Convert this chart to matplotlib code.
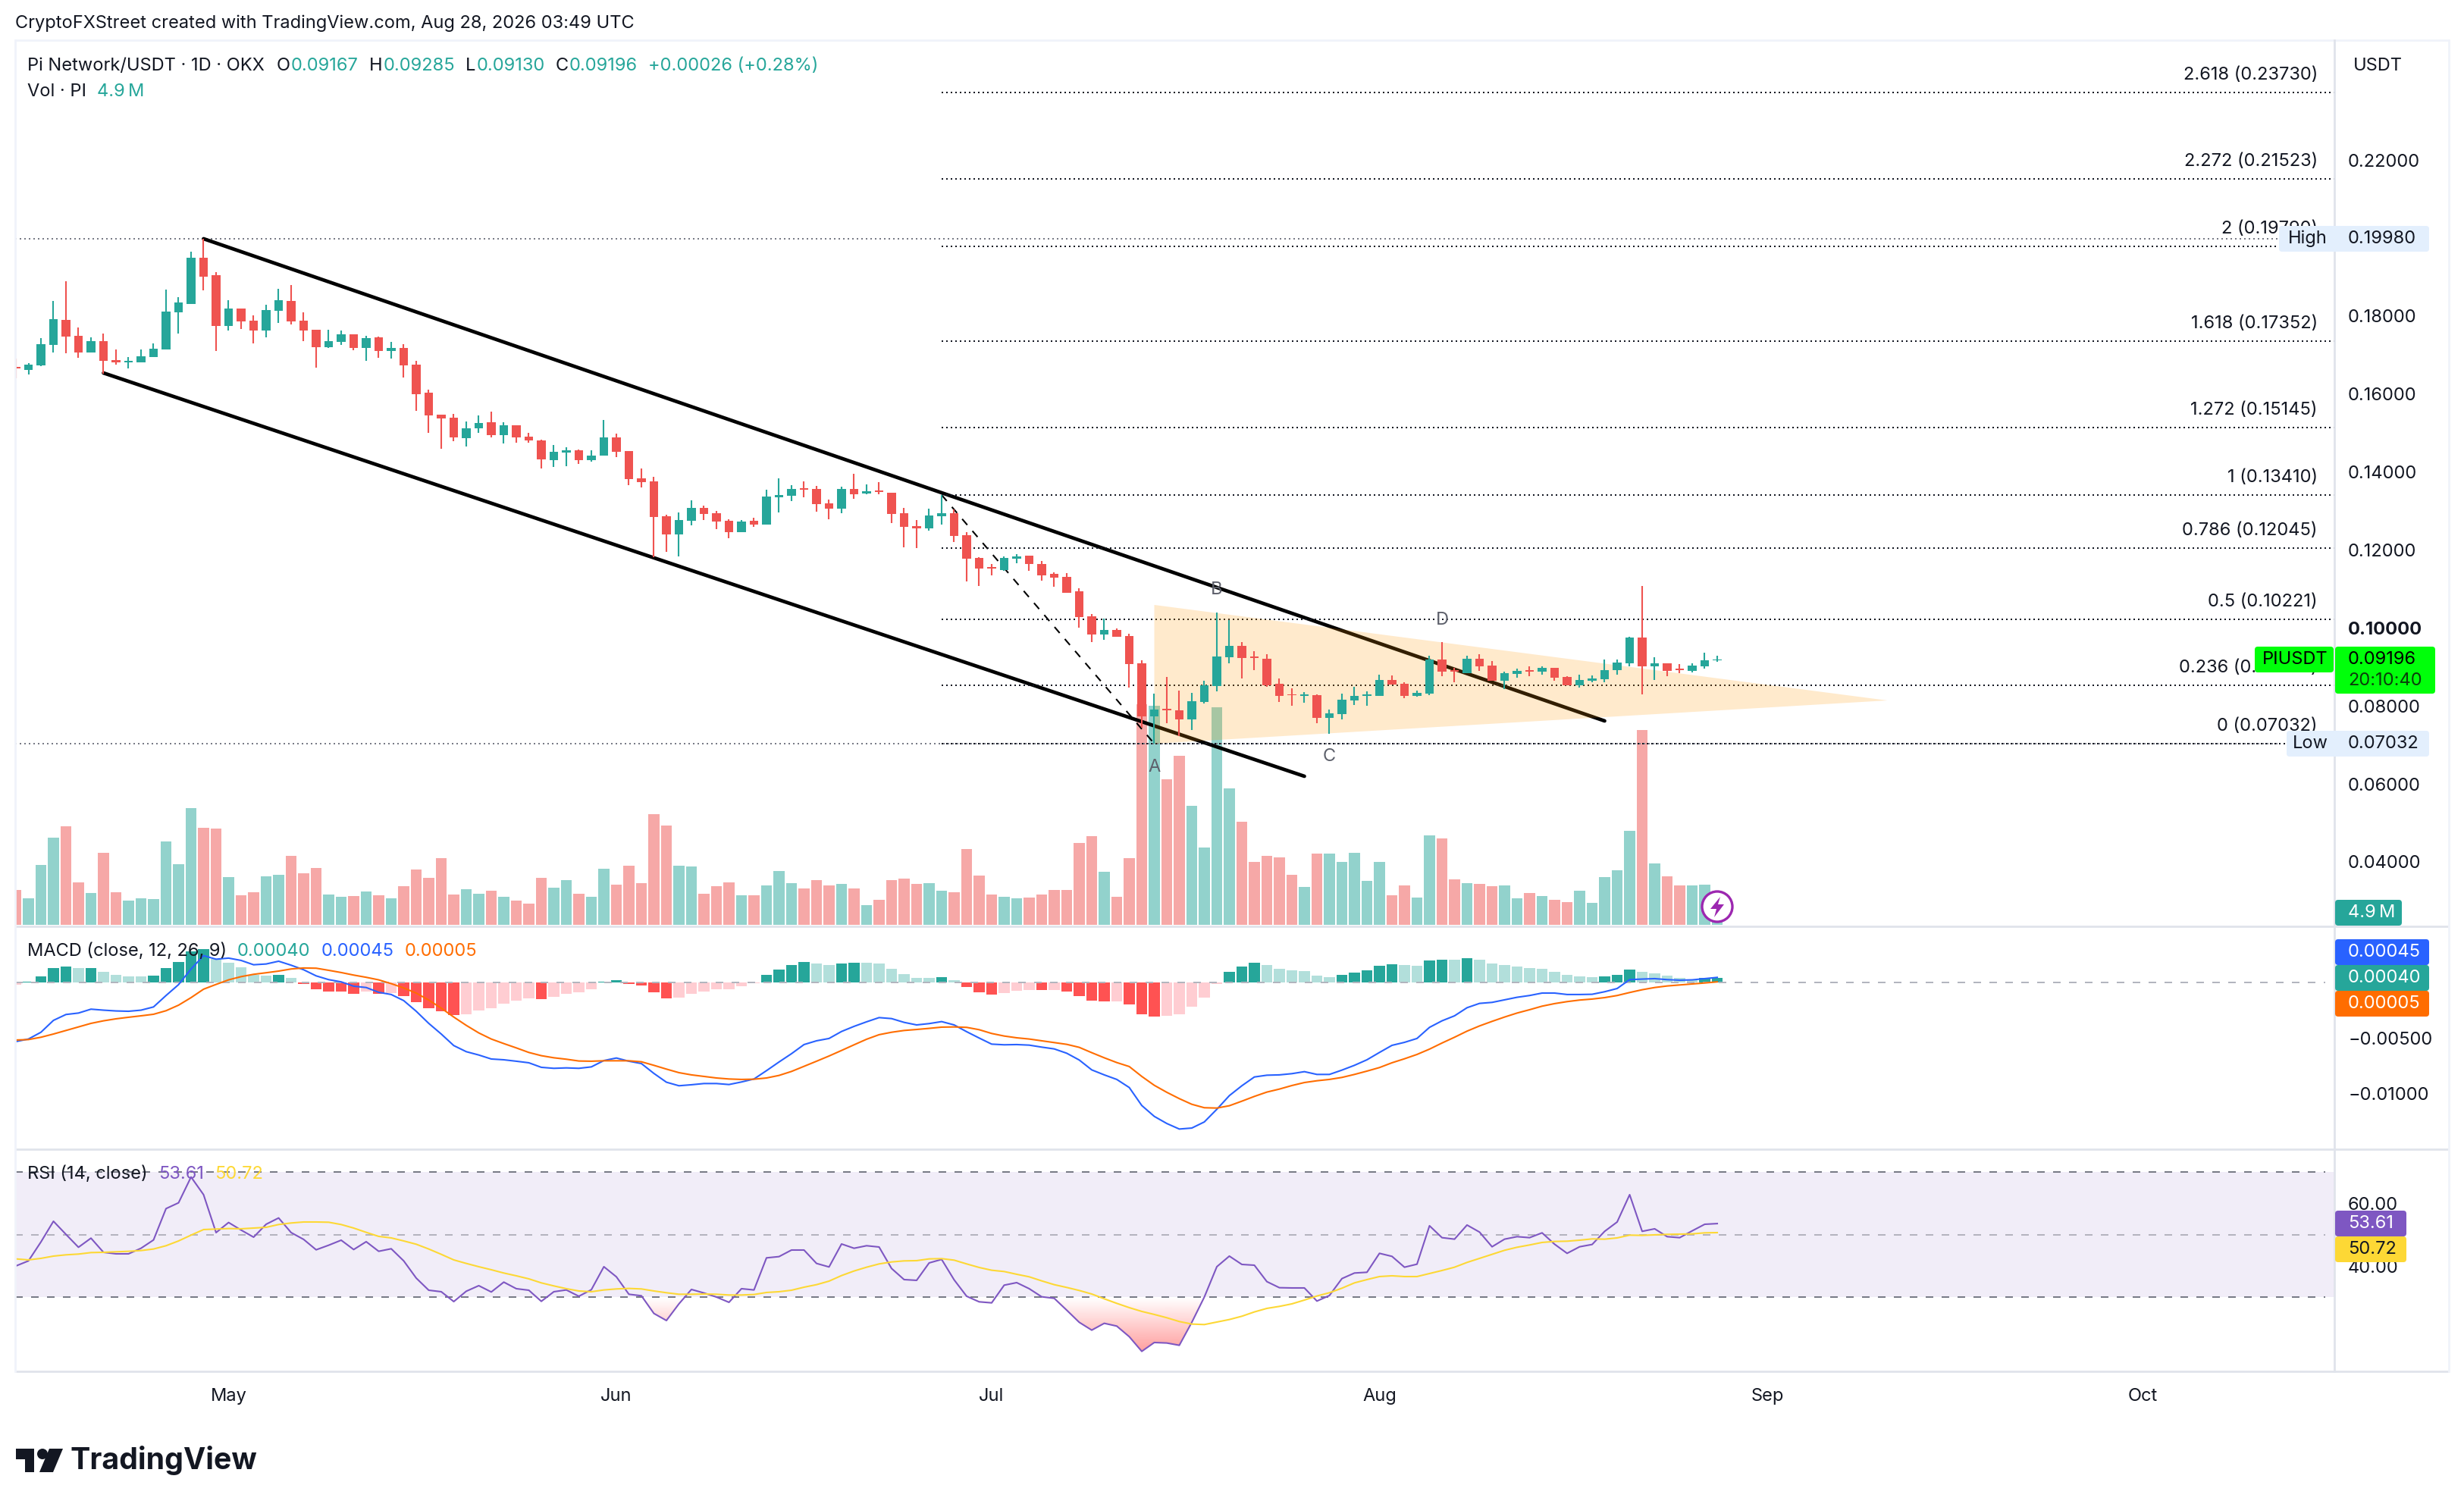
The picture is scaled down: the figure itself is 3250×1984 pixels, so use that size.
import numpy as np
import matplotlib
matplotlib.use('Agg')
import matplotlib.pyplot as plt
from matplotlib.patches import FancyBboxPatch, Rectangle, Circle, Polygon, PathPatch
from matplotlib.path import Path

plt.rcParams['font.family'] = ['Inter', 'DejaVu Sans']

W, H = 3250, 1984
UP, DOWN = '#26a69a', '#ef5350'
TXT = '#131722'
FS = 17

# daily candles, Apr 14 to Aug 28
opens = [.16693,.16615,.16732,.17257,.17899,.17490,.17063,.17354,.16868,.16810,
.16810,.16946,.17140,.18093,.18307,.19493,.19045,.17743,.18190,.17879,
.17626,.18132,.18385,.17879,.17646,.17199,.17335,.17529,.17179,.17451,
.17101,.17179,.16752,.16032,.15469,.15391,.14866,.15119,.15274,.14944,
.15196,.14905,.14808,.14302,.14497,.14555,.14302,.14420,.14886,.14536,
.13836,.13759,.12864,.12398,.12748,.13078,.12942,.12748,.12456,.12748,
.12651,.13350,.13389,.13584,.13564,.13195,.13059,.13564,.13448,.13525,
.13467,.12942,.12612,.12553,.12864,.12942,.12378,.11795,.11562,.11484,
.11776,.11853,.11640,.11387,.11309,.10940,.10298,.09832,.09948,.09793,
.09093,.07732,.07927,.07888,.07654,.08102,.08510,.09249,.09540,.09268,
.09210,.08568,.08296,.08257,.08277,.07693,.07791,.08140,.08257,.08257,
.08665,.08568,.08257,.08315,.09190,.08918,.08840,.09210,.09035,.08646,
.08821,.08918,.08879,.08976,.08743,.08529,.08646,.08685,.08918,.09093,
.09754,.09015,.09093,.08957,.08899,.09015,.09167]
highs = [.16901,.16790,.17432,.18385,.18890,.17704,.17451,.17549,.17140,.16946,
.17140,.17296,.18676,.18482,.19648,.19980,.19123,.18404,.18190,.18015,
.18287,.18696,.18793,.18093,.17646,.17646,.17626,.17529,.17490,.17471,
.17335,.17276,.16849,.16110,.15469,.15488,.15294,.15449,.15546,.15274,
.15196,.15002,.14827,.14691,.14633,.14574,.14555,.15333,.14983,.14536,
.14089,.13875,.12903,.12962,.13273,.13137,.13000,.12787,.12767,.12825,
.13545,.13836,.13661,.13759,.13642,.13292,.13623,.13953,.13681,.13739,
.13467,.13078,.12767,.13059,.13410,.13039,.12456,.11815,.11640,.11834,
.11892,.11853,.11717,.11426,.11406,.11018,.10357,.10240,.09987,.09851,
.09171,.08315,.08743,.08393,.08335,.08646,.10395,.10201,.09637,.09404,
.09326,.08704,.08451,.08354,.08296,.07907,.08315,.08490,.08374,.08801,
.08782,.08607,.08393,.09287,.09637,.08976,.09287,.09326,.09151,.08879,
.08957,.09015,.09015,.08976,.08763,.08801,.08782,.09190,.09190,.09773,
.11076,.09249,.09093,.09074,.09093,.09365,.09285]
lows = [.16402,.16499,.16713,.17063,.17043,.16927,.17063,.16512,.16752,.16654,
.16810,.16946,.17140,.17549,.18307,.18657,.17101,.17626,.17665,.17296,
.17451,.17821,.17782,.17354,.16674,.17179,.17257,.17121,.16849,.16927,
.16907,.16421,.15566,.15002,.14594,.14788,.14652,.15002,.14885,.14730,
.14749,.14749,.14088,.14127,.14147,.14205,.14263,.14420,.14381,.13661,
.13603,.11815,.11951,.11834,.12631,.12767,.12534,.12301,.12456,.12592,
.12651,.12962,.13253,.13350,.12981,.12787,.12942,.13311,.13428,.13428,
.12689,.12067,.12048,.12495,.12651,.12203,.11193,.11076,.11348,.11465,
.11659,.11465,.11212,.11056,.10901,.10007,.09637,.09696,.09773,.08471,
.07441,.07032,.07557,.07227,.07382,.08063,.08374,.09093,.08704,.08918,
.08490,.08102,.08004,.08082,.07557,.07285,.07654,.08024,.08004,.08257,
.08549,.08199,.08238,.08277,.08763,.08607,.08840,.08899,.08646,.08432,
.08724,.08763,.08801,.08646,.08529,.08471,.08607,.08607,.08801,.09015,
.08296,.08665,.08763,.08840,.08860,.08957,.09130]
closes = [.16661,.16752,.17276,.17918,.17471,.17063,.17354,.16849,.16810,.16849,
.16965,.17160,.18112,.18346,.19493,.19007,.17743,.18190,.17860,.17626,
.18151,.18404,.17860,.17626,.17199,.17354,.17529,.17179,.17432,.17101,
.17179,.16732,.15993,.15449,.15371,.14885,.15119,.15255,.14944,.15196,
.14885,.14808,.14322,.14516,.14555,.14302,.14419,.14886,.14517,.13817,
.13739,.12845,.12398,.12767,.13078,.12923,.12728,.12456,.12728,.12651,
.13370,.13409,.13564,.13545,.13175,.13059,.13564,.13428,.13506,.13486,
.12923,.12592,.12553,.12884,.12942,.12359,.11776,.11523,.11523,.11795,
.11834,.11640,.11348,.11290,.10901,.10279,.09832,.09948,.09773,.09074,
.07732,.07907,.07888,.07654,.08121,.08529,.09268,.09540,.09229,.09229,
.08529,.08257,.08277,.08296,.07693,.07810,.08160,.08257,.08296,.08665,
.08549,.08257,.08335,.09190,.08879,.08879,.09210,.09015,.08646,.08840,
.08899,.08879,.08976,.08724,.08529,.08665,.08704,.08918,.09112,.09754,
.09015,.09093,.08899,.08918,.09035,.09171,.09196]

# volume, millions of PI
volume = [14.1,10.7,24.2,35.2,39.8,17.1,12.9,29.1,13.2,9.8,
10.7,10.4,33.7,24.5,47.1,39.2,38.9,19.3,11.9,13.2,
19.6,20.2,27.8,20.8,23.0,12.2,11.3,11.6,13.5,11.9,
10.7,15.6,22.3,19.0,26.9,12.2,14.4,12.5,13.8,11.3,
9.8,8.6,19.0,15.0,18.1,12.5,11.3,22.6,16.2,23.9,
16.8,44.7,40.1,23.9,23.6,12.5,15.6,17.1,11.9,11.9,
15.9,21.7,16.8,14.7,18.1,15.9,16.5,14.7,8.0,10.1,
18.1,18.7,16.5,16.8,13.8,13.2,30.6,19.9,12.2,11.3,
10.7,11.0,12.2,14.1,14.1,33.0,35.8,21.4,11.3,26.9,
89.0,88.4,58.8,68.2,48.0,31.2,87.8,55.1,41.6,25.4,
27.8,27.2,20.2,15.3,28.8,28.8,25.4,29.1,17.7,25.4,
11.9,15.9,11.0,36.1,34.9,18.4,16.8,16.5,15.6,15.9,
10.7,12.9,11.6,10.1,9.2,13.8,8.9,19.3,22.0,37.9,
78.6,24.8,19.6,15.9,15.9,16.2,4.9]

# MACD values in units of 1e-5
macd_line = [-533,-510,-449,-342,-289,-276,-241,-250,-257,-260,
-250,-221,-118,-20,121,241,209,219,198,159,
166,191,155,114,59,25,5,-34,-46,-89,
-109,-164,-260,-369,-465,-569,-624,-654,-690,-697,
-710,-724,-765,-774,-770,-774,-761,-704,-681,-710,
-731,-820,-899,-931,-922,-911,-911,-920,-897,-870,
-795,-717,-642,-560,-526,-505,-442,-396,-355,-317,
-326,-360,-383,-371,-353,-383,-444,-501,-556,-562,
-560,-565,-583,-599,-638,-699,-788,-833,-874,-947,
-1109,-1207,-1271,-1321,-1312,-1257,-1143,-1020,-931,-852,
-836,-833,-822,-804,-829,-829,-790,-747,-697,-631,
-567,-540,-505,-405,-346,-301,-228,-189,-180,-157,
-134,-118,-96,-96,-109,-109,-107,-84,-55,25,
30,34,25,20,23,34,45]
signal_line = [-519,-515,-494,-465,-433,-401,-369,-346,-328,-314,
-301,-287,-255,-205,-137,-61,-18,23,52,73,
87,102,121,130,128,109,89,66,46,23,
-11,-50,-96,-159,-232,-312,-387,-455,-510,-551,
-590,-631,-660,-679,-692,-708,-710,-706,-706,-706,
-715,-747,-781,-813,-833,-847,-861,-870,-874,-872,
-861,-838,-802,-756,-710,-663,-613,-562,-512,-471,
-449,-433,-424,-414,-403,-401,-405,-426,-460,-483,
-499,-510,-526,-542,-558,-585,-633,-679,-722,-758,
-847,-927,-990,-1047,-1098,-1129,-1132,-1111,-1070,-1027,
-988,-961,-929,-902,-886,-874,-856,-829,-799,-767,
-724,-688,-649,-601,-546,-494,-439,-392,-351,-312,
-276,-246,-214,-191,-173,-159,-150,-137,-118,-91,
-66,-46,-32,-23,-14,-5,5]
macd_hist = [-18,7,55,130,143,128,132,96,68,55,
54,61,130,184,280,300,212,178,134,68,
61,68,41,-14,-61,-82,-84,-102,-84,-102,
-95,-123,-178,-232,-260,-294,-287,-253,-232,-191,
-166,-143,-150,-130,-102,-89,-61,7,20,-14,
-27,-89,-143,-137,-102,-82,-61,-60,-34,-7,
68,116,157,184,171,157,171,178,177,171,
123,75,41,40,48,20,-41,-89,-109,-96,
-75,-68,-70,-68,-82,-123,-164,-171,-168,-198,
-287,-307,-301,-287,-219,-137,-14,96,143,178,
157,123,109,102,61,48,68,89,109,150,
164,157,150,198,205,203,219,205,171,157,
143,130,123,96,68,55,48,55,68,116,
96,82,61,41,27,38,40]

rsi_line = [40.06,41.68,47.74,54.36,50.16,46.04,48.95,44.42,43.94,43.94,
45.72,48.38,58.40,60.26,68.50,62.85,50.73,53.96,51.54,49.27,
53.39,55.41,50.73,48.55,45.23,46.69,48.30,45.31,47.82,44.75,
45.56,41.68,36.18,32.30,31.82,28.67,31.98,33.76,31.74,34.89,
32.79,32.30,28.75,31.82,32.39,30.37,32.47,39.82,36.59,31.01,
30.53,24.87,22.61,27.94,32.55,31.42,30.12,28.43,32.79,32.39,
42.65,43.05,45.15,45.15,40.87,39.74,47.09,45.72,46.53,46.12,
39.25,35.70,35.46,41.03,42.16,35.62,30.37,28.59,28.26,33.92,
34.73,32.79,30.20,29.72,25.92,22.04,19.54,21.72,20.83,17.44,
12.75,15.58,15.42,14.69,22.04,30.12,39.82,43.21,40.55,40.30,
35.05,33.11,33.03,33.03,28.83,30.61,36.02,37.80,38.04,44.10,
43.13,39.66,40.63,52.91,49.11,48.63,53.15,50.89,46.20,48.63,
49.43,49.11,50.65,47.01,44.10,46.20,46.93,51.13,54.12,62.85,
51.13,51.94,49.43,49.11,51.29,53.39,53.61]
rsi_ma = [42.32,42.00,42.49,43.21,43.62,43.86,44.34,44.42,44.59,44.75,
44.99,45.48,46.53,48.06,49.92,51.70,51.86,52.02,51.94,52.18,
52.42,53.31,53.80,54.12,54.12,54.04,53.31,52.18,50.81,49.52,
49.03,48.06,47.01,45.48,43.78,42.00,40.87,39.82,38.85,37.80,
36.91,35.94,34.65,33.68,32.79,32.06,31.82,32.39,32.71,32.87,
32.71,32.06,31.50,31.01,31.01,31.09,31.01,30.77,30.77,30.93,
31.58,31.82,32.30,33.27,34.08,35.21,36.99,38.45,39.66,40.71,
41.35,41.68,41.76,42.32,42.40,41.92,40.71,39.58,38.69,38.28,
37.40,36.59,35.29,34.08,33.19,32.22,31.09,29.56,28.10,26.73,
25.52,24.55,23.50,22.29,21.48,21.32,22.12,22.93,23.98,25.36,
26.49,27.13,27.94,29.15,30.45,31.50,32.95,34.65,35.70,36.67,
36.91,36.67,36.67,37.64,38.61,39.66,41.19,42.49,43.78,45.07,
46.04,46.77,47.58,47.90,47.98,48.30,48.71,48.63,49.03,49.92,
49.84,50.00,50.16,50.24,50.32,50.65,50.72]

fib_ratios = ['2.618', '2.272', '2', '1.618', '1.272', '1', '0.786', '0.5', '0.236', '0']
fib_prices = [.23730, .21523, .19790, .17352, .15145, .13410, .12045, .10221, .08537, .07032]

month_pos = [17, 48, 78, 109, 140, 170]
month_names = ['May', 'Jun', 'Jul', 'Aug', 'Sep', 'Oct']
price_ticks = [.04, .06, .08, .10, .12, .14, .16, .18, .22]
macd_ticks = [-500, -1000]
rsi_ticks = [40, 60]

# drawings, in (bar index, price)
upper_channel = ([15, 127], [.19980, .07615])
lower_channel = ([7, 103], [.16538, .06196])
swing_line = ([74, 91], [.13410, .07032])
triangle = [(91, .10590), (149.6, .08140), (91, .07032)]
wave_labels = [('A', 91, .06429), ('B', 96, .10978), ('C', 105, .06702), ('D', 114, .10201)]

fig = plt.figure(figsize=(W / 100, H / 100), dpi=100, facecolor='white')


def pane(x0, y0, x1, y1, **kw):
    return fig.add_axes([x0 / W, 1 - y1 / H, (x1 - x0) / W, (y1 - y0) / H], **kw)


LEFT, RIGHT = 20, 3079
EDGE = 3230
x = np.arange(len(closes))
xlim = ((LEFT - 21) / 16.5, (RIGHT - 21) / 16.5)
is_up = np.array(closes) >= np.array(opens)
colors = [UP if u else DOWN for u in is_up]

# volume sits under the price pane
ax_vol = pane(LEFT, 53, RIGHT, 1222)
ax_vol.bar(x, volume, width=0.87, color=colors, alpha=0.5, linewidth=0)
ax_vol.set_ylim(-0.6, 357)

ax = pane(LEFT, 53, RIGHT, 1222)
ax.patch.set_visible(False)
ax.set_ylim(.02347, .25072)

dots = (0, (1, 2))
ax.hlines(.19980, xlim[0], 181, color='#787b86', lw=1.44, linestyles=dots, zorder=2)
ax.hlines(.07032, xlim[0], 181, color='#787b86', lw=1.44, linestyles=dots, zorder=2)
for ratio, p in zip(fib_ratios, fib_prices):
    ax.hlines(p, 74, xlim[1], color=TXT, lw=1.44, linestyles=dots, zorder=2.5)
    ax.annotate(f'{ratio} ({p:.5f})', (184, p), xytext=(0, 16.5), textcoords='offset points',
                ha='right', va='center', fontsize=FS, color=TXT, zorder=5)

ax.plot(*upper_channel, color='black', lw=3.4, zorder=2, solid_capstyle='round')
ax.plot(*lower_channel, color='black', lw=3.4, zorder=2, solid_capstyle='round')
ax.plot(*swing_line, color='black', lw=1.5, ls=(0, (5, 5)), zorder=2)
ax.add_patch(Polygon(triangle, closed=True, facecolor='#ff9800', alpha=0.2, edgecolor='none', zorder=3))

ax.vlines(x, lows, highs, color=colors, lw=1.5, zorder=4)
ax.bar(x, np.abs(np.array(closes) - np.array(opens)), bottom=np.minimum(opens, closes),
       width=0.72, color=colors, linewidth=0, zorder=4.1)
for name, i, p in wave_labels:
    ax.text(i, p, name, ha='center', va='center', fontsize=17, color='#5d606b', zorder=4.5)

# MACD
ax_macd = pane(LEFT, 1222, RIGHT, 1515)
hist = np.array(macd_hist) / 1e5
hist_colors = []
for i, v in enumerate(hist):
    rising = i > 0 and v > hist[i - 1]
    if v >= 0:
        hist_colors.append('#26a69a' if rising else '#b2dfdb')
    else:
        hist_colors.append('#ffcdd2' if rising or i == 0 else '#ff5252')
ax_macd.bar(x, hist, width=0.88, color=hist_colors, linewidth=0, zorder=2)
ax_macd.axhline(0, color='#b2b5be', lw=1.44, ls=(0, (5, 5.5)), zorder=3, xmax=0.996)
ax_macd.plot(x, np.array(macd_line) / 1e5, color='#2962ff', lw=1.5, zorder=4)
ax_macd.plot(x, np.array(signal_line) / 1e5, color='#ff6d00', lw=1.5, zorder=4)
ax_macd.set_ylim(-.01496, .00505)

# RSI
ax_rsi = pane(LEFT, 1516, RIGHT, 1809)
ax_rsi.axhspan(30, 70, color='#7e57c2', alpha=0.1, linewidth=0, zorder=1)
ax_rsi.axhline(70, color='#787b86', lw=1.44, ls=(0, (5, 5.5)), zorder=2, xmax=0.996)
ax_rsi.axhline(50, color='#787b86', lw=1.44, ls=(0, (5, 5.5)), alpha=0.5, zorder=2, xmax=0.996)
ax_rsi.axhline(30, color='#787b86', lw=1.44, ls=(0, (5, 5.5)), zorder=2, xmax=0.996)
below = ax_rsi.fill_between(x, rsi_line, 30, where=np.array(rsi_line) < 30, interpolate=True,
                            color='none', linewidth=0)
shade = np.zeros((64, 1, 4))
shade[..., :3] = matplotlib.colors.to_rgb('#ff5252')
shade[..., 3] = np.linspace(0.58, 0, 64)[:, None]
img = ax_rsi.imshow(shade, extent=(0, 136, 12, 30), origin='lower', aspect='auto', zorder=1.5)
clip = PathPatch(Path.make_compound_path(*below.get_paths()), transform=ax_rsi.transData, fc='none', ec='none')
ax_rsi.add_patch(clip)
img.set_clip_path(clip)
ax_rsi.plot(x, rsi_line, color='#7e57c2', lw=1.5, zorder=4)
ax_rsi.plot(x, rsi_ma, color='#fdd835', lw=1.5, zorder=4)
ax_rsi.set_ylim(6.36, 77.39)

for a in (ax_vol, ax, ax_macd, ax_rsi):
    a.set_xlim(*xlim)
    for s in a.spines.values():
        s.set_visible(False)
    a.set_xticks([])
    a.set_yticks([])

for a, ticks, labels in (
    (ax, price_ticks, [f'{t:.5f}' for t in price_ticks]),
    (ax_macd, [t / 1e5 for t in macd_ticks], [f'\u2212{-t / 1e5:.5f}' for t in macd_ticks]),
    (ax_rsi, rsi_ticks, [f'{t:.2f}' for t in rsi_ticks]),
):
    a.yaxis.tick_right()
    a.set_yticks(ticks, labels)
    a.tick_params(axis='y', length=0, pad=13, labelsize=FS, labelcolor=TXT)
for lab in ax.get_yticklabels():
    if lab.get_text() == '0.10000':
        lab.set_fontweight('bold')

ax_rsi.set_xticks(month_pos, month_names)
ax_rsi.tick_params(axis='x', length=0, pad=15.5, labelsize=FS, labelcolor=TXT)

# overlay in image pixels for borders, price badges, legends and the logo
ov = fig.add_axes([0, 0, 1, 1], zorder=10)
ov.set_xlim(0, W)
ov.set_ylim(H, 0)
ov.axis('off')
ov.patch.set_visible(False)

for y, c in ((53, '#f0f3fa'), (1222, '#e0e3eb'), (1516, '#e0e3eb'), (1809, '#e0e3eb')):
    ov.plot([LEFT, EDGE], [y, y], color=c, lw=2, solid_capstyle='butt')
ov.plot([RIGHT, RIGHT], [53, 1809], color='#e0e3eb', lw=2)
ov.plot([EDGE, EDGE], [53, 1809], color='#f0f3fa', lw=2)
ov.plot([LEFT, LEFT], [53, 1809], color='#f0f3fa', lw=2)


def badge(x0, y0, x1, y1, color, text='', tx=None, tcolor='white'):
    ov.add_patch(FancyBboxPatch((x0, y0), x1 - x0, y1 - y0, boxstyle='round,pad=0,rounding_size=4',
                                fc=color, ec='none', zorder=3))
    if text:
        ov.text(tx, (y0 + y1) / 2, text, color=tcolor, fontsize=FS, va='center', ha='left', zorder=4)


AX_TXT = 3097
badge(3006, 298, 3204, 332, '#e3effd')
ov.text(3044, 315, 'High', fontsize=FS, va='center', ha='center', color=TXT, zorder=4)
ov.text(AX_TXT, 315, '0.19980', fontsize=FS, va='center', color=TXT, zorder=4)
badge(3016, 964, 3204, 998, '#e3effd')
ov.text(3047, 981, 'Low', fontsize=FS, va='center', ha='center', color=TXT, zorder=4)
ov.text(AX_TXT, 981, '0.07032', fontsize=FS, va='center', color=TXT, zorder=4)
badge(2974, 853, 3078, 887, '#00ff0a', 'PIUSDT', 2984, 'black')
badge(3080, 853, 3212, 915, '#00ff0a')
ov.text(AX_TXT, 870, '0.09196', fontsize=FS, va='center', color='black', zorder=4)
ov.text(AX_TXT, 898, '20:10:40', fontsize=FS, va='center', color='#0b3d0b', zorder=4)
badge(3080, 1187, 3168, 1221, UP, '4.9\u2009M', AX_TXT)
badge(3080, 1239, 3204, 1273, '#2962ff', '0.00045', AX_TXT)
badge(3080, 1273, 3204, 1307, UP, '0.00040', AX_TXT)
badge(3080, 1307, 3204, 1341, '#ff6d00', '0.00005', AX_TXT)
badge(3080, 1597, 3174, 1631, '#7e57c2', '53.61', AX_TXT)
badge(3080, 1631, 3174, 1665, '#fdd835', '50.72', AX_TXT, TXT)
ov.text(3136, 87, 'USDT', fontsize=FS, va='center', ha='center', color=TXT)

rend = fig.canvas.get_renderer()


def flow(x0, y, parts):
    # text runs in several colours, one after the other
    for s, c, gap in parts:
        t = ov.text(x0, y, s, color=c, fontsize=FS, va='center', ha='left', zorder=5)
        x0 += t.get_window_extent(rend).width + gap


ov.text(20, 31, 'CryptoFXStreet created with TradingView.com, Aug 28, 2026 03:49 UTC',
        fontsize=FS, va='center', color=TXT)
flow(36, 87, [('Pi Network/USDT \u00b7 1D \u00b7 OKX', TXT, 16),
              ('O', TXT, 1), ('0.09167', UP, 14), ('H', TXT, 1), ('0.09285', UP, 14),
              ('L', TXT, 1), ('0.09130', UP, 14), ('C', TXT, 1), ('0.09196', UP, 14),
              ('+0.00026 (+0.28%)', UP, 0)])
flow(36, 121, [('Vol \u00b7 PI', TXT, 14), ('4.9\u2009M', UP, 0)])
flow(36, 1255, [('MACD (close, 12, 26, 9)', TXT, 14), ('0.00040', UP, 14),
                ('0.00045', '#2962ff', 14), ('0.00005', '#ff6d00', 0)])
flow(36, 1549, [('RSI (14, close)', TXT, 14), ('53.61', '#7e57c2', 14), ('50.72', '#fdd835', 0)])

# replay bolt next to the last bar
ov.add_patch(Circle((2265, 1196), 20, fc='white', ec='#9c27b0', lw=2.4, zorder=4))
ov.add_patch(Polygon([(2269, 1183), (2256, 1199), (2264, 1199), (2261, 1210), (2274, 1193), (2266, 1193)],
                     closed=True, fc='#9c27b0', ec='none', zorder=5))

# TradingView logo
ov.add_patch(Rectangle((21, 1911), 24, 14, fc=TXT, ec='none'))
ov.add_patch(Rectangle((33, 1911), 12, 31, fc=TXT, ec='none'))
ov.add_patch(Circle((56, 1918), 7, fc=TXT, ec='none'))
ov.add_patch(Polygon([(65, 1911), (83, 1911), (70, 1942), (52, 1942)], closed=True, fc=TXT, ec='none'))
ov.text(93, 1927, 'TradingView', fontsize=28.3, fontweight='bold', va='center', color=TXT)

fig.savefig('out.png', dpi=100)
